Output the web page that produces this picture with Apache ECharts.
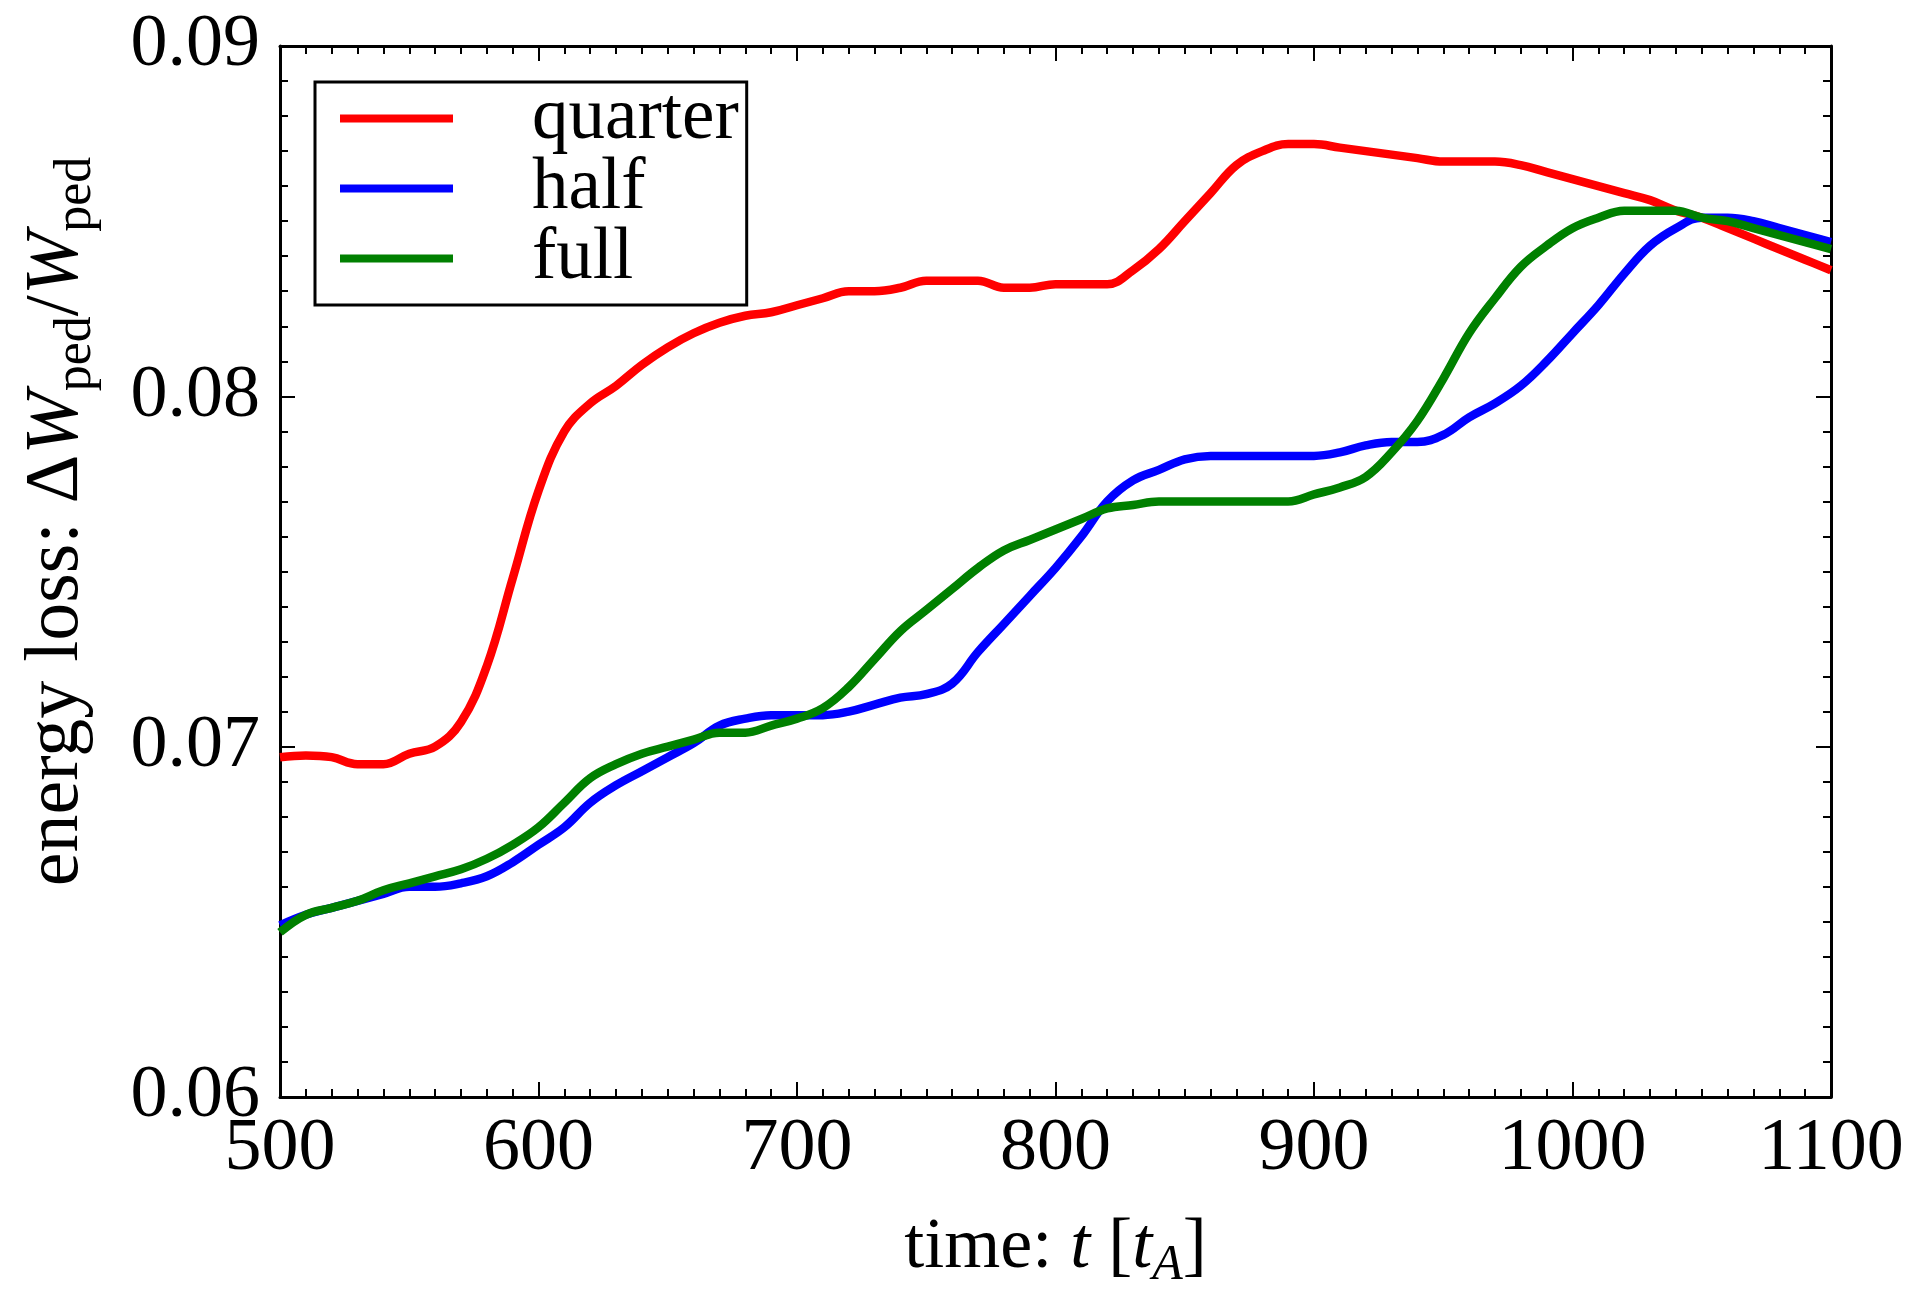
<!DOCTYPE html>
<html>
<head>
<meta charset="utf-8">
<script src="https://cdn.jsdelivr.net/npm/echarts@6/dist/echarts.min.js"></script>
<style>
html,body{margin:0;padding:0;background:#fff;}
#chart{width:1917px;height:1296px;}
</style>
</head>
<body>
<div id="chart"></div>
<script>
var times = [500,510,520,530,540,550,560,570,580,590,600,610,620,630,640,650,660,670,680,690,700,710,720,730,740,750,760,770,780,790,800,810,820,830,840,850,860,870,880,890,900,910,920,930,940,950,960,970,980,990,1000,1010,1020,1030,1040,1050,1060,1070,1080,1090,1100];

var quarter = [0.0697,0.06975,0.0697,0.0695,0.0695,0.0698,0.0700,0.0707,0.0723,0.0748,0.0773,0.0790,0.0798,0.0803,0.0809,0.0814,0.0818,0.0821,0.0823,0.0824,0.0826,0.0828,0.0830,0.0830,0.0831,0.0833,0.0833,0.0833,0.0831,0.0831,0.0832,0.0832,0.0832,0.0836,0.0842,0.0850,0.0858,0.0866,0.0870,0.0872,0.0872,0.0871,0.0870,0.0869,0.0868,0.0867,0.0867,0.0867,0.0866,0.0864,0.0862,0.0860,0.0858,0.0856,0.0853,0.0851,0.0848,0.0845,0.0842,0.0839,0.0836];

var half = [0.0649,0.0652,0.0654,0.0656,0.0658,0.0660,0.0660,0.0661,0.0663,0.0667,0.0672,0.0677,0.0684,0.0689,0.0693,0.0697,0.0701,0.0706,0.0708,0.0709,0.0709,0.0709,0.0710,0.0712,0.0714,0.0715,0.0718,0.0727,0.0735,0.0743,0.0751,0.0760,0.0770,0.0776,0.0779,0.0782,0.0783,0.0783,0.0783,0.0783,0.0783,0.0784,0.0786,0.0787,0.0787,0.0789,0.0794,0.0798,0.0803,0.0810,0.0818,0.0826,0.0835,0.0843,0.0848,0.0851,0.0851,0.0850,0.0848,0.0846,0.0844];

var full = [0.0647,0.0652,0.0654,0.0656,0.0659,0.0661,0.0663,0.0665,0.0668,0.0672,0.0677,0.0684,0.0691,0.0695,0.0698,0.0700,0.0702,0.0704,0.0704,0.0706,0.0708,0.0711,0.0717,0.0725,0.0733,0.0739,0.0745,0.0751,0.0756,0.0759,0.0762,0.0765,0.0768,0.0769,0.0770,0.0770,0.0770,0.0770,0.0770,0.0770,0.0772,0.0774,0.0777,0.0784,0.0793,0.0805,0.0818,0.0828,0.0837,0.0843,0.0848,0.0851,0.0853,0.0853,0.0853,0.0851,0.0850,0.0848,0.0846,0.0844,0.0842];

var seriesNames = ['quarter','half','full'];
var seriesColors = ['#ff0000','#0000ff','#008000'];
var xTicks = [500,600,700,800,900,1000,1100];
var yTicks = [0.06,0.07,0.08,0.09];

function pairs(vals){ return times.map(function(t,i){ return [t, vals[i]]; }); }

var FONT = 'Liberation Serif';
var chart = echarts.init(document.getElementById('chart'));

var axisCommon = {
  type:'value',
  axisLine:{show:true, onZero:false, lineStyle:{color:'#000', width:3}},
  axisTick:{show:true, inside:true, length:15, lineStyle:{color:'#000', width:2}},
  minorTick:{show:true, splitNumber:10, length:8, lineStyle:{color:'#000', width:2}},
  splitLine:{show:false},
  minorSplitLine:{show:false}
};

function ax(extra){ return Object.assign({}, JSON.parse(JSON.stringify(axisCommon)), extra); }

var option = {
  backgroundColor:'#fff',
  animation:false,
  grid:{left:280, right:86, top:46, bottom:181, containLabel:false},
  legend:{
    show:true,
    data:seriesNames,
    orient:'vertical',
    left:315, top:82,
    icon:'rect',
    itemWidth:113, itemHeight:8,
    itemGap:-3,
    padding:[0,8,10,25],
    borderColor:'#000', borderWidth:3,
    backgroundColor:'#fff',
    textStyle:{fontFamily:FONT, fontSize:73, color:'#000', lineHeight:62, padding:[0,0,0,74]}
  },
  xAxis:[
    ax({position:'bottom', min:xTicks[0], max:xTicks[xTicks.length-1], interval:100,
      axisLabel:{show:true, margin:16, fontFamily:FONT, fontSize:74, color:'#000',
        formatter:function(v){ return String(v); }},
      name:'{n|time: }{i|t}{n| [}{i|t}{si|A}{n|]}',
      nameLocation:'middle', nameGap:108,
      nameTextStyle:{rich:{
        n:{fontFamily:FONT, fontSize:72, color:'#000', lineHeight:86},
        i:{fontFamily:FONT, fontSize:72, fontStyle:'italic', color:'#000', lineHeight:86},
        si:{fontFamily:FONT, fontSize:50, fontStyle:'italic', color:'#000', verticalAlign:'bottom', lineHeight:50}
      }}
    }),
    ax({position:'top', min:xTicks[0], max:xTicks[xTicks.length-1], interval:100,
      axisLabel:{show:false}})
  ],
  yAxis:[
    ax({position:'left', min:yTicks[0], max:yTicks[yTicks.length-1], interval:0.01,
      axisLabel:{show:true, margin:20, fontFamily:FONT, fontSize:74, color:'#000',
        formatter:function(v){ return v.toFixed(2); }},
      name:'{n|energy loss: Δ}{i|W}{s|ped}{n|/}{i|W}{s|ped}',
      nameLocation:'middle', nameGap:178, nameRotate:90,
      nameTextStyle:{padding:[0,0,0,100], rich:{
        n:{fontFamily:FONT, fontSize:76, color:'#000', lineHeight:90},
        i:{fontFamily:FONT, fontSize:76, fontStyle:'italic', color:'#000', lineHeight:90},
        s:{fontFamily:FONT, fontSize:52, color:'#000', verticalAlign:'bottom', lineHeight:52}
      }}
    }),
    ax({position:'right', min:yTicks[0], max:yTicks[yTicks.length-1], interval:0.01,
      axisLabel:{show:false}})
  ],
  series:[
    {name:seriesNames[0], type:'line', data:pairs(quarter), smooth:0.4, showSymbol:false, symbol:'none',
      lineStyle:{color:seriesColors[0], width:8.5}, itemStyle:{color:seriesColors[0]}},
    {name:seriesNames[1], type:'line', data:pairs(half), smooth:0.4, showSymbol:false, symbol:'none',
      lineStyle:{color:seriesColors[1], width:8.5}, itemStyle:{color:seriesColors[1]}},
    {name:seriesNames[2], type:'line', data:pairs(full), smooth:0.4, showSymbol:false, symbol:'none',
      lineStyle:{color:seriesColors[2], width:8.5}, itemStyle:{color:seriesColors[2]}}
  ]
};
chart.setOption(option);
</script>
</body>
</html>
